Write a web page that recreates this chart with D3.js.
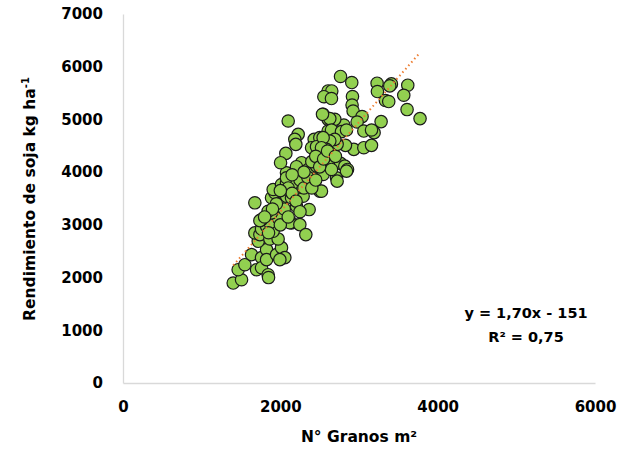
<!DOCTYPE html>
<html><head><meta charset="utf-8">
<script src="https://cdn.jsdelivr.net/npm/d3@7"></script>
<style>body{margin:0;background:#fff}svg{display:block}text{font-family:"DejaVu Sans",sans-serif}</style>
</head><body>
<script>
const granos = [1401,1507,1464,1549,1634,1698,1761,1761,1845,1850,1825,1825,1952,2015,2057,1994,1719,1676,1740,1867,1972,1909,1761,1825,1867,1972,1888,1845,1761,1740,2142,2120,2248,2324,1676,1888,1930,2015,2078,2142,2205,2226,2290,2366,2502,1909,2015,2078,2121,2226,2078,2205,2290,2375,2502,2142,
2100,2227,2184,2197,2070,2003,2430,2397,2502,2460,2544,2565,2607,2607,2607,2502,2270,2205,2354,2460,2078,
2765,2908,2654,2553,2650,2917,2912,2925,3230,3234,3412,3391,3620,3569,3336,3378,3611,3776,3281,3039,2976,3061,3192,3159,2807,2692,2629,2536,2650,2777,2841,2934,3061,3159,2828,2722,2692,2629,2544,2587,2523,2629,2629,2765,2819,2854,2523,2523,2714,
2722,2523,2841,2544,2650,
2100,2150,2250,2300,2350,2200,2050,1950,2400,2450,2300,2150,2000,1900,1800,1850,2000,2100,2250,2400,2500,2550,2600,2700,2450];
const rendimiento = [1896,1959,2149,2244,2435,2149,2378,2187,2054,2000,2530,2340,2435,2568,2378,2340,2688,2847,2815,2733,2733,2878,2923,2973,3038,3133,3228,3258,3100,3080,3038,3040,3005,2815,3418,3513,3608,3418,3544,3513,3353,3544,3544,3290,3639,3671,3766,3798,3861,3703,3988,3924,3988,4019,3988,3766,
4970,4717,4622,4527,4356,4179,4622,4464,4654,4483,5097,5434,5540,5002,4780,4274,4179,4103,4051,4114,3893,
5815,5700,5540,5431,5396,5434,5274,5160,5687,5529,5674,5636,5649,5459,5358,5339,5187,5016,4959,5054,4951,4780,4749,4799,4894,5002,5016,5097,4799,4768,4799,4432,4464,4508,4508,4527,4622,4590,4654,4432,4464,4369,4210,4166,4114,4051,4179,4051,3893,
3829,3639,4019,3956,4051,
3700,3600,3850,3700,3900,3450,3300,3400,4200,4300,4000,3950,3650,3300,3150,2850,3000,3150,3250,3700,4100,4250,4400,4300,3850];
const xTicks = [0,2000,4000,6000];
const yTicks = [0,1000,2000,3000,4000,5000,6000,7000];
const slope = 1.70, intercept = -151;
const eqLines = ["y = 1,70x - 151","R² = 0,75"];
const xTitle = "N° Granos m²";
const yTitle = "Rendimiento de soja kg ha";

const W=641,H=449;
const svg=d3.select("body").append("svg").attr("width",W).attr("height",H);
const x=d3.scaleLinear().domain([0,6000]).range([123,595]);
const y=d3.scaleLinear().domain([0,7000]).range([383,14]);

const ax=svg.append("g").attr("transform","translate(0,383)")
  .call(d3.axisBottom(x).tickValues(xTicks).tickSize(0).tickPadding(18).tickFormat(d3.format("d")));
const ay=svg.append("g").attr("transform","translate(123,0)")
  .call(d3.axisLeft(y).tickValues(yTicks).tickSize(0).tickPadding(20).tickFormat(d3.format("d")));
[ax,ay].forEach(g=>{
  g.select(".domain").attr("stroke","#d9d9d9").attr("stroke-width",1.3);
  g.selectAll("text").attr("font-size",15).attr("font-weight",700).attr("fill","#000").attr("font-family","'DejaVu Sans',sans-serif");
});

const data=granos.map((g,i)=>({g,r:rendimiento[i]}));
svg.append("g").selectAll("circle").data(data).join("circle")
  .attr("cx",d=>x(d.g)).attr("cy",d=>y(d.r)).attr("r",6.2)
  .attr("fill","#92d050").attr("stroke","#1a1a1a").attr("stroke-width",1.2);

const xmin=d3.min(granos), xmax=d3.max(granos);
svg.append("line").attr("x1",x(xmin)).attr("y1",y(slope*xmin+intercept))
  .attr("x2",x(xmax)).attr("y2",y(slope*xmax+intercept))
  .attr("stroke","#ed7d31").attr("stroke-width",2).attr("stroke-dasharray","1.5,3");

svg.append("text").attr("x",359).attr("y",442).attr("text-anchor","middle")
  .attr("font-size",15.5).attr("font-weight",700).text(xTitle);
const yt=svg.append("text").attr("transform","translate(35,199) rotate(-90)").attr("text-anchor","middle")
  .attr("font-size",15.5).attr("font-weight",700);
yt.append("tspan").text(yTitle);
yt.append("tspan").attr("font-size",10).attr("dy",-6).text("-1");

svg.append("g").selectAll("text").data(eqLines).join("text")
  .attr("x",526).attr("y",(d,i)=>318+i*24).attr("text-anchor","middle")
  .attr("font-size",14.5).attr("font-weight",700).text(d=>d);
</script>
</body></html>
